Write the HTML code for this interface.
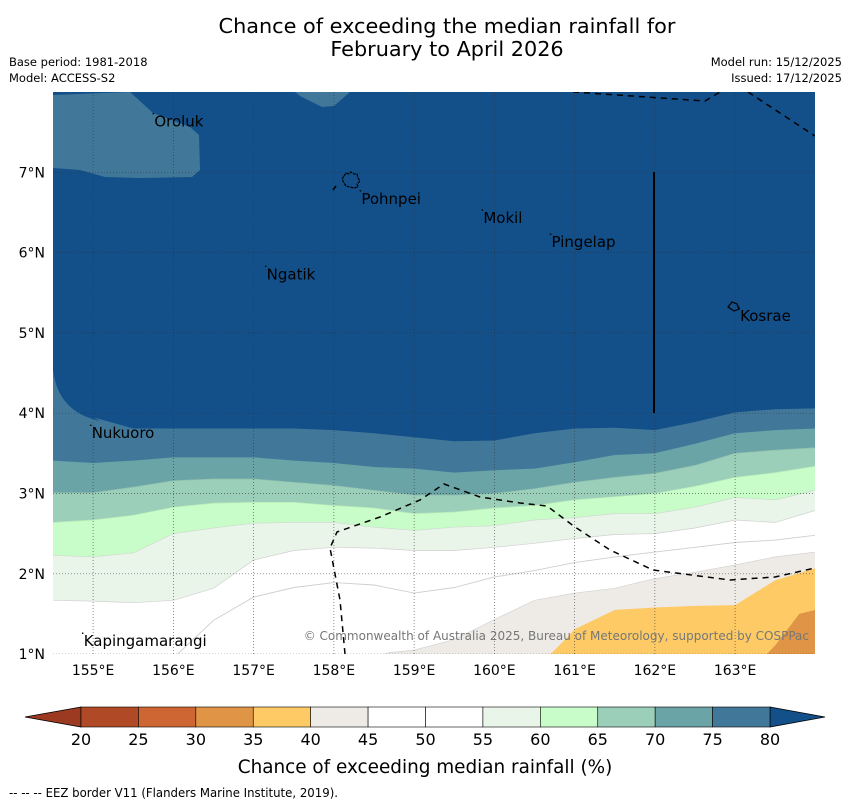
<!DOCTYPE html>
<html><head><meta charset="utf-8"><style>
html,body{margin:0;padding:0;background:#fff;}
svg{display:block;font-family:"DejaVu Sans","Liberation Sans",sans-serif;}
</style></head><body>
<svg id="c" width="850" height="804" viewBox="0 0 850 804" xmlns="http://www.w3.org/2000/svg">
<text x="447" y="33" text-anchor="middle" font-size="20.8">Chance of exceeding the median rainfall for</text>
<text x="447" y="56" text-anchor="middle" font-size="20.8">February to April 2026</text>
<text x="9" y="66" font-size="11.5">Base period: 1981-2018</text>
<text x="9" y="82" font-size="11.5">Model: ACCESS-S2</text>
<text x="842" y="66" font-size="11.5" text-anchor="end">Model run: 15/12/2025</text>
<text x="842" y="82" font-size="11.5" text-anchor="end">Issued: 17/12/2025</text>
<defs><clipPath id="mapclip"><rect x="53" y="92" width="762" height="562"/></clipPath></defs>
<g id="map" clip-path="url(#mapclip)"></g>
<g id="axes"></g>
<g id="cbar"></g>
<text x="425" y="773" text-anchor="middle" font-size="18.4">Chance of exceeding median rainfall (%)</text>
<text x="9" y="797" font-size="12" textLength="329" lengthAdjust="spacingAndGlyphs">--  --  -- EEZ border V11 (Flanders Marine Institute, 2019).</text>
</svg>
<script>
const lons = [154.5,155,155.5,156,156.5,157,157.5,158,158.5,159,159.5,160,160.5,161,161.5,162,162.5,163,163.5,164];
const b80 = [4.78,3.95,3.81,3.81,3.81,3.81,3.81,3.79,3.75,3.70,3.65,3.66,3.75,3.81,3.82,3.79,3.89,4.01,4.05,4.06];
const b75 = [3.41,3.38,3.41,3.45,3.45,3.45,3.41,3.38,3.33,3.31,3.26,3.29,3.31,3.39,3.48,3.50,3.62,3.75,3.79,3.81];
const b70 = [3.01,3.01,3.08,3.16,3.18,3.18,3.14,3.10,3.04,2.98,2.98,3.00,3.06,3.14,3.20,3.25,3.35,3.50,3.54,3.57];
const b65 = [2.64,2.67,2.73,2.83,2.88,2.89,2.89,2.85,2.82,2.75,2.77,2.82,2.85,2.92,2.96,3.00,3.09,3.20,3.26,3.34];
const b60 = [2.23,2.21,2.26,2.50,2.57,2.63,2.64,2.64,2.58,2.54,2.58,2.60,2.67,2.70,2.75,2.75,2.83,2.95,2.92,3.04];
const b55 = [1.67,1.66,1.64,1.67,1.82,2.17,2.29,2.33,2.32,2.29,2.29,2.33,2.38,2.44,2.49,2.50,2.57,2.67,2.64,2.79];
const b50Lons = [156,156.5,157,157.5,158,158.5,159,159.5,160,160.5,161,161.5,162,162.5,163,163.5,164];
const b50 = [0.95,1.42,1.71,1.83,1.89,1.86,1.76,1.83,1.96,2.04,2.14,2.21,2.27,2.33,2.39,2.42,2.48];
const b40Lons = [158.3,158.7,159,159.5,160,160.5,161,161.5,162,162.5,163,163.5,164];
const b40 = [0.9,1.02,1.05,1.18,1.43,1.67,1.76,1.82,1.94,2.02,2.11,2.21,2.27];
const b35Lons = [160.6,160.9,161,161.5,162,162.5,163,163.5,164];
const b35 = [0.9,1.2,1.31,1.55,1.58,1.60,1.61,1.92,2.07];
const b30Lons = [163.3,163.5,163.8,164];
const b30 = [0.9,1.11,1.5,1.55];
const levels = [20,25,30,35,40,45,50,55,60,65,70,75,80];
const levelColors = ["#b04a26","#cd6633","#e09445","#fdca65","#eeebe7","#ffffff","#ffffff","#eaf5ea","#c8fcc8","#9bcfba","#6aa4a6","#41789a"];
const places = ["Oroluk","Pohnpei","Mokil","Pingelap","Ngatik","Kosrae","Nukuoro","Kapingamarangi"];
const placeLon = [155.75,158.33,159.85,160.7,157.15,163.05,154.97,154.87];
const placeLat = [7.73,6.77,6.53,6.23,5.83,5.31,3.85,1.26];
const xTicks = [155,156,157,158,159,160,161,162,163];
const yTicks = [1,2,3,4,5,6,7];

const NS="http://www.w3.org/2000/svg";
const X = lon => 53 + (lon-154.5)*80.25;
const Y = lat => 92 + (8-lat)*80.3;
const map = document.getElementById('map'), axes=document.getElementById('axes'), cbar=document.getElementById('cbar');
function mk(tag, attrs, parent){const e=document.createElementNS(NS,tag);for(const k in attrs)e.setAttribute(k,attrs[k]);parent.appendChild(e);return e;}

let bg = mk('rect',{x:53,y:92,width:762,height:562,fill:"#134f89"},map);



function band(ls, vals, color, name, stroke){
  let d = 'M'+X(ls[0])+','+(Y(0.5));
  ls.forEach((l,i)=>{ d+=' L'+X(l).toFixed(1)+','+Y(vals[i]).toFixed(1); });
  d += ' L'+X(ls[ls.length-1]+0.5)+','+Y(vals[vals.length-1]).toFixed(1)+' L'+X(ls[ls.length-1]+0.5)+','+Y(0.5)+' Z';
  const p = mk('path',{d:d,fill:color,stroke:stroke||'none','stroke-width':0.7},map);
  
  
}
const ext = ls => [ls[0]-0.5].concat(ls);
band(ext(lons),[b80[0]].concat(b80),levelColors[11],'band-75-80');
band(ext(lons),[b75[0]].concat(b75),levelColors[10],'band-70-75');
band(ext(lons),[b70[0]].concat(b70),levelColors[9],'band-65-70','#8fbfae');
band(ext(lons),[b65[0]].concat(b65),levelColors[8],'band-60-65','#b8e8b8');
band(ext(lons),[b60[0]].concat(b60),levelColors[7],'band-55-60','#cfdccf');
band(ext(lons),[b55[0]].concat(b55),levelColors[6],'band-45-55','#d0d0d0');
band(b40Lons,b40,levelColors[4],'band-40-45','#d4d4d4');
band(b35Lons,b35,levelColors[3],'band-35-40');
band(b30Lons,b30,levelColors[2],'band-30-35');
let pl = mk('polyline',{points:b50Lons.map((l,i)=>X(l).toFixed(1)+','+Y(b50[i]).toFixed(1)).join(' '),fill:'none',stroke:'#cfcfcf','stroke-width':0.9},map);


// rounded corner of the >80 region on the west edge
let corner = mk('path',{d:'M53,348 L53,370 Q58,412 100,421 L93,417 Z',fill:'#134f89'},map);



let blob = mk('path',{d:'M53,95 L130,92 L153,113 L190,127 L199,135 L200,170 L192,177 L140,178 L105,177 L80,170 L53,168 Z M295,92 L350,92 L334,106 L322,107 L300,96 Z',fill:levelColors[11]},map);



xTicks.forEach(t=>{const l=mk('line',{x1:X(t),x2:X(t),y1:92,y2:654,stroke:'#333','stroke-width':0.7,'stroke-dasharray':'1,2','stroke-opacity':0.8},map);
  
  
  const tx=mk('text',{x:X(t),y:675,'text-anchor':'middle','font-size':14},axes);tx.textContent=t+'°E';
  
  });
yTicks.forEach(t=>{const l=mk('line',{x1:53,x2:815,y1:Y(t),y2:Y(t),stroke:'#333','stroke-width':0.7,'stroke-dasharray':'1,2','stroke-opacity':0.8},map);
  
  
  const tx=mk('text',{x:45,y:Y(t)+5,'text-anchor':'end','font-size':14},axes);tx.textContent=t+'°N';
  
  });

const eez = ['M345,654 L340,600 L330,548 L337,532 L380,517 L420,500 L444,484 L480,497 L520,503 L547,506 L575,527 L610,550 L653,570 L730,580 L775,577 L815,568',
 'M573,92 L705,101 L720,92','M748,92 L815,136','M333,190 L336,186'];
eez.forEach((d,i)=>{const p=mk('path',{d:d,fill:'none',stroke:'#000','stroke-width':1.5,'stroke-dasharray':'6,5'},map);
  
  });
let vl=mk('line',{x1:654,x2:654,y1:172,y2:413,stroke:'#000','stroke-width':2},map);


let pi=mk('path',{d:'M344,176 L346,173 L349,174 L351,172 L354,174 L357,174 L358,178 L360,181 L357,184 L358,187 L354,188 L350,187 L346,186 L344,183 L342,179 Z',fill:'none',stroke:'#000','stroke-width':1.2,'stroke-dasharray':'3,1'},map);


let ki=mk('path',{d:'M728,307 L732,302 L737,304 L739,309 L734,311 Z',fill:'none',stroke:'#000','stroke-width':1.2},map);


places.forEach((n,i)=>{
  const d=mk('circle',{cx:X(placeLon[i]),cy:Y(placeLat[i]),r:0.8,fill:'#000'},map);
  
  
  const t=mk('text',{x:X(placeLon[i])+1,y:Y(placeLat[i])+13,'font-size':15,fill:'#000'},map);t.textContent=n;
  
  
});
let cp=mk('text',{x:809,y:640,'text-anchor':'end','font-size':12,fill:'#777'},map);cp.textContent='© Commonwealth of Australia 2025, Bureau of Meteorology, supported by COSPPac';



const cx0=81, cx1=770, cy=707, ch=20, cw=(cx1-cx0)/(levels.length-1);
let lt=mk('path',{d:`M${cx0},${cy} L25,${cy+ch/2} L${cx0},${cy+ch} Z`,fill:'#9b3a20',stroke:'#000','stroke-width':0.8},cbar);


let rt=mk('path',{d:`M${cx1},${cy} L825,${cy+ch/2} L${cx1},${cy+ch} Z`,fill:'#134f89',stroke:'#000','stroke-width':0.8},cbar);


levelColors.forEach((c,i)=>{const r=mk('rect',{x:cx0+i*cw,y:cy,width:cw,height:ch,fill:c,stroke:'#000','stroke-width':0.6},cbar);
  
  });
levels.forEach((v,i)=>{const t=mk('text',{x:cx0+i*cw,y:745,'text-anchor':'middle','font-size':16},cbar);t.textContent=v;
  
  });
</script>
</body></html>
